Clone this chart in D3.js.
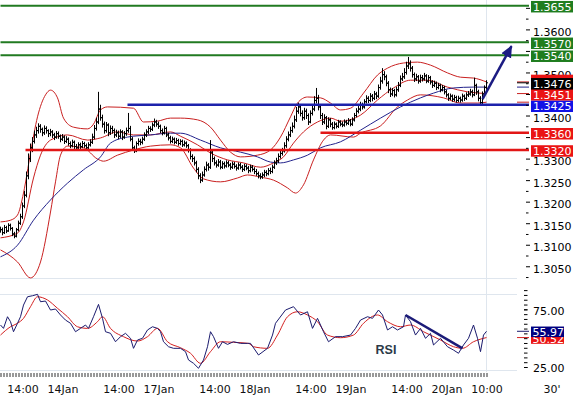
<!DOCTYPE html>
<html>
<head>
<meta charset="utf-8">
<script src="https://cdn.jsdelivr.net/npm/d3@7"></script>
<style>
body { margin: 0; background: #fff; }
svg { display: block; font-family: "DejaVu Sans", sans-serif; }
</style>
</head>
<body>
<svg id="chart" width="574" height="395"></svg>
<script>
// 30' bars, 13Jan 08:30 -> 20Jan 10:00 (bar index = position on the time axis)
var firstOpen = 1.3135;
var closes = [
 1.3135,1.3128,1.3140,1.3132,1.3145,1.3138,1.3125,1.3120,1.3135,1.3150,
 1.3165,1.3190,1.3215,1.3260,1.3300,1.3325,1.3340,1.3355,1.3365,1.3375,
 1.3368,1.3360,1.3370,1.3365,1.3358,1.3362,1.3355,1.3350,1.3358,1.3352,
 1.3345,1.3350,1.3340,1.3345,1.3335,1.3330,1.3338,1.3328,1.3325,1.3332,
 1.3328,1.3335,1.3330,1.3325,1.3332,1.3338,1.3350,1.3370,1.3385,1.3415,
 1.3395,1.3380,1.3365,1.3378,1.3360,1.3370,1.3365,1.3355,1.3360,1.3352,
 1.3362,1.3350,1.3358,1.3365,1.3370,1.3345,1.3325,1.3318,1.3335,1.3340,
 1.3338,1.3345,1.3355,1.3362,1.3370,1.3368,1.3378,1.3385,1.3380,1.3375,
 1.3365,1.3360,1.3370,1.3355,1.3348,1.3340,1.3345,1.3338,1.3342,1.3335,
 1.3340,1.3332,1.3336,1.3330,1.3320,1.3305,1.3300,1.3290,1.3275,1.3260,
 1.3250,1.3262,1.3275,1.3285,1.3280,1.3315,1.3300,1.3290,1.3285,1.3292,
 1.3280,1.3288,1.3283,1.3290,1.3285,1.3280,1.3287,1.3282,1.3278,1.3285,
 1.3280,1.3275,1.3282,1.3278,1.3272,1.3280,1.3275,1.3270,1.3265,1.3260,
 1.3258,1.3262,1.3268,1.3265,1.3272,1.3270,1.3280,1.3290,1.3295,1.3305,
 1.3312,1.3318,1.3330,1.3345,1.3355,1.3365,1.3375,1.3390,1.3410,1.3420,
 1.3405,1.3395,1.3410,1.3400,1.3385,1.3405,1.3415,1.3435,1.3440,1.3420,
 1.3400,1.3385,1.3395,1.3375,1.3390,1.3380,1.3372,1.3380,1.3375,1.3385,
 1.3380,1.3378,1.3385,1.3382,1.3388,1.3380,1.3390,1.3400,1.3410,1.3415,
 1.3425,1.3420,1.3432,1.3440,1.3435,1.3445,1.3440,1.3450,1.3445,1.3465,
 1.3480,1.3495,1.3490,1.3475,1.3460,1.3450,1.3458,1.3448,1.3460,1.3470,
 1.3485,1.3490,1.3500,1.3515,1.3520,1.3510,1.3495,1.3485,1.3490,1.3480,
 1.3488,1.3485,1.3492,1.3480,1.3488,1.3478,1.3470,1.3475,1.3465,1.3470,
 1.3460,1.3465,1.3455,1.3448,1.3440,1.3445,1.3438,1.3442,1.3435,1.3440,
 1.3436,1.3445,1.3440,1.3448,1.3450,1.3455,1.3448,1.3470,1.3455,1.3440,
 1.3430,1.3450,1.3465,1.3476
];
var highs = [
 1.3142,1.3140,1.3146,1.3144,1.3150,1.3149,1.3141,1.3130,1.3139,1.3156,
 1.3172,1.3198,1.3225,1.3270,1.3312,1.3335,1.3350,1.3365,1.3374,1.3382,
 1.3380,1.3372,1.3377,1.3375,1.3368,1.3369,1.3366,1.3360,1.3364,1.3363,
 1.3356,1.3357,1.3354,1.3352,1.3349,1.3340,1.3344,1.3342,1.3334,1.3338,
 1.3337,1.3341,1.3339,1.3335,1.3338,1.3345,1.3358,1.3378,1.3395,1.3455,
 1.3425,1.3402,1.3386,1.3385,1.3382,1.3377,1.3376,1.3370,1.3367,1.3365,
 1.3368,1.3366,1.3364,1.3372,1.3406,1.3376,1.3350,1.3330,1.3340,1.3347,
 1.3346,1.3351,1.3361,1.3368,1.3376,1.3375,1.3384,1.3393,1.3390,1.3386,
 1.3379,1.3370,1.3376,1.3374,1.3360,1.3353,1.3351,1.3349,1.3348,1.3346,
 1.3345,1.3344,1.3342,1.3340,1.3334,1.3324,1.3310,1.3305,1.3295,1.3280,
 1.3266,1.3270,1.3282,1.3293,1.3290,1.3343,1.3320,1.3305,1.3296,1.3299,
 1.3297,1.3294,1.3293,1.3296,1.3295,1.3290,1.3293,1.3292,1.3287,1.3291,
 1.3290,1.3285,1.3288,1.3287,1.3283,1.3286,1.3285,1.3280,1.3276,1.3270,
 1.3266,1.3268,1.3274,1.3273,1.3278,1.3279,1.3286,1.3296,1.3302,1.3312,
 1.3320,1.3325,1.3338,1.3352,1.3363,1.3374,1.3384,1.3400,1.3420,1.3430,
 1.3426,1.3412,1.3418,1.3416,1.3405,1.3412,1.3424,1.3445,1.3464,1.3448,
 1.3426,1.3406,1.3403,1.3399,1.3396,1.3394,1.3385,1.3386,1.3384,1.3390,
 1.3389,1.3386,1.3391,1.3390,1.3394,1.3392,1.3396,1.3406,1.3417,1.3422,
 1.3432,1.3430,1.3438,1.3447,1.3445,1.3452,1.3450,1.3457,1.3455,1.3472,
 1.3490,1.3510,1.3503,1.3495,1.3480,1.3465,1.3464,1.3462,1.3467,1.3478,
 1.3493,1.3499,1.3510,1.3525,1.3536,1.3528,1.3515,1.3500,1.3497,1.3494,
 1.3495,1.3494,1.3499,1.3496,1.3494,1.3492,1.3482,1.3481,1.3479,1.3476,
 1.3474,1.3471,1.3469,1.3460,1.3452,1.3451,1.3449,1.3448,1.3446,1.3446,
 1.3444,1.3451,1.3449,1.3454,1.3457,1.3462,1.3460,1.3488,1.3474,1.3460,
 1.3445,1.3456,1.3470,1.3482
];
var lows = [
 1.3128,1.3122,1.3125,1.3127,1.3130,1.3133,1.3120,1.3115,1.3117,1.3131,
 1.3146,1.3160,1.3185,1.3210,1.3252,1.3292,1.3315,1.3335,1.3348,1.3358,
 1.3360,1.3352,1.3355,1.3358,1.3350,1.3352,1.3348,1.3343,1.3346,1.3346,
 1.3338,1.3341,1.3334,1.3336,1.3330,1.3324,1.3326,1.3322,1.3319,1.3320,
 1.3322,1.3324,1.3325,1.3318,1.3321,1.3328,1.3334,1.3345,1.3365,1.3380,
 1.3388,1.3372,1.3358,1.3360,1.3352,1.3355,1.3358,1.3348,1.3350,1.3345,
 1.3348,1.3343,1.3346,1.3353,1.3360,1.3340,1.3320,1.3313,1.3315,1.3330,
 1.3331,1.3333,1.3341,1.3350,1.3357,1.3362,1.3364,1.3373,1.3374,1.3369,
 1.3359,1.3354,1.3356,1.3350,1.3342,1.3335,1.3336,1.3333,1.3334,1.3330,
 1.3331,1.3327,1.3328,1.3325,1.3314,1.3298,1.3292,1.3284,1.3268,1.3252,
 1.3243,1.3246,1.3258,1.3270,1.3272,1.3276,1.3292,1.3284,1.3279,1.3281,
 1.3275,1.3276,1.3277,1.3279,1.3280,1.3274,1.3276,1.3277,1.3272,1.3274,
 1.3275,1.3269,1.3271,1.3273,1.3266,1.3268,1.3270,1.3264,1.3260,1.3254,
 1.3252,1.3253,1.3257,1.3259,1.3261,1.3264,1.3266,1.3276,1.3285,1.3290,
 1.3300,1.3307,1.3314,1.3325,1.3340,1.3350,1.3360,1.3370,1.3385,1.3404,
 1.3398,1.3388,1.3390,1.3392,1.3378,1.3382,1.3400,1.3410,1.3428,1.3412,
 1.3392,1.3378,1.3380,1.3368,1.3371,1.3373,1.3367,1.3368,1.3370,1.3371,
 1.3375,1.3373,1.3374,1.3377,1.3378,1.3375,1.3376,1.3386,1.3396,1.3405,
 1.3410,1.3414,1.3416,1.3428,1.3429,1.3431,1.3433,1.3436,1.3438,1.3441,
 1.3460,1.3474,1.3482,1.3468,1.3452,1.3443,1.3445,1.3442,1.3444,1.3455,
 1.3466,1.3480,1.3485,1.3495,1.3508,1.3502,1.3488,1.3478,1.3480,1.3474,
 1.3476,1.3479,1.3481,1.3475,1.3476,1.3472,1.3464,1.3466,1.3459,1.3461,
 1.3454,1.3456,1.3449,1.3442,1.3434,1.3436,1.3432,1.3433,1.3430,1.3431,
 1.3430,1.3432,1.3434,1.3436,1.3443,1.3446,1.3442,1.3445,1.3448,1.3433,
 1.3423,1.3426,1.3446,1.3460
];

// Bollinger bands and moving average, [bar index, price]
var upperBand = [[0,1.3153],[5,1.3157],[8.5,1.3169],[11.5,1.3220],[15,1.3313],[18.5,1.3397],[22.5,1.3448],[25,1.3459],[28.5,1.3441],[31.5,1.3394],[36.5,1.3373],[43.5,1.3369],[46.5,1.3380],[50,1.3413],[53.5,1.3420],[66.5,1.3417],[71.5,1.3385],[78.5,1.3387],[85,1.3394],[90,1.3394],[98.5,1.3390],[105,1.3373],[110,1.3343],[115,1.3315],[120,1.3304],[128.5,1.3308],[135,1.3320],[140,1.3350],[145,1.3397],[148.5,1.3429],[153.5,1.3443],[160,1.3441],[165,1.3429],[170,1.3413],[175,1.3417],[181.5,1.3452],[188.5,1.3494],[193.5,1.3510],[201.5,1.3522],[208.5,1.3524],[215,1.3517],[223.5,1.3499],[230,1.3489],[236.5,1.3487],[243,1.3478]];
var midBand = [[0,1.3116],[8.5,1.3127],[11.5,1.3153],[16.5,1.3255],[20,1.3308],[25,1.3343],[33.5,1.3355],[43.5,1.3343],[50,1.3348],[58.5,1.3362],[66.5,1.3355],[75,1.3355],[85,1.3362],[90,1.3352],[98.5,1.3332],[105,1.3313],[113.5,1.3297],[121.5,1.3290],[130,1.3280],[136.5,1.3290],[141.5,1.3304],[146.5,1.3336],[151.5,1.3362],[158.5,1.3385],[165,1.3394],[170,1.3387],[180,1.3401],[188.5,1.3436],[196.5,1.3464],[205,1.3482],[213.5,1.3482],[223.5,1.3466],[233.5,1.3455],[243,1.3451]];
var lowerBand = [[0,1.3088],[8.5,1.3060],[15,1.3023],[20,1.3060],[25,1.3176],[27.5,1.3246],[30,1.3308],[33.5,1.3329],[41.5,1.3325],[48.5,1.3299],[51.5,1.3294],[58.5,1.3308],[66.5,1.3320],[75,1.3329],[85,1.3332],[90,1.3325],[96.5,1.3278],[101.5,1.3253],[110,1.3246],[118.5,1.3255],[123.5,1.3262],[130,1.3257],[136.5,1.3250],[143.5,1.3232],[147.5,1.3220],[151.5,1.3239],[156.5,1.3297],[161.5,1.3343],[165,1.3355],[176.5,1.3350],[180,1.3359],[190,1.3376],[198.5,1.3420],[203.5,1.3436],[210,1.3448],[221.5,1.3441],[230,1.3429],[238.5,1.3429],[243,1.3431]];
var movingAvg = [[0,1.3072],[8.5,1.3099],[16.5,1.3157],[25,1.3204],[33.5,1.3243],[41.5,1.3274],[50,1.3304],[55,1.3336],[63.5,1.3350],[75,1.3355],[85,1.3359],[90,1.3359],[100,1.3343],[110,1.3325],[120,1.3315],[128.5,1.3304],[135,1.3292],[140,1.3290],[146.5,1.3297],[153.5,1.3308],[160,1.3325],[170,1.3339],[180,1.3366],[190,1.3394],[200,1.3420],[210,1.3441],[216.5,1.3452],[226.5,1.3464],[236.5,1.3466],[243,1.3466]];

// support / resistance levels
var levelValues = [1.3655, 1.3570, 1.3540, 1.3425, 1.3360, 1.3320];
var levelStart  = [0, 0, 0, 63.5, 160, 12.5];
var levelKind   = ["res", "res", "res", "pivot", "sup", "sup"];
var trendFrom = [241, 1.3438];
var trendTo   = [255.5, 1.3561];

// RSI panel
var rsiLine = [[0,61.4],[1.5,58.5],[3.5,68.6],[5,64.3],[6.5,55.6],[8.5,62.9],[10,68.6],[11.5,78.7],[13.5,85.9],[16,86.8],[18.5,88.0],[20,81.6],[22.5,82.2],[25,74.4],[27.5,75.3],[30,70.1],[32.5,65.7],[35,62.9],[37.5,55.6],[40,58.5],[42.5,61.4],[44,58.5],[46.5,68.6],[49,79.3],[51,67.2],[52.5,55.6],[55,54.2],[57.5,46.9],[60,51.3],[62.5,54.2],[65,49.9],[66.5,41.2],[68.5,48.4],[71,49.9],[73.5,57.1],[76,59.9],[78.5,58.5],[80,55.6],[81.5,46.9],[84,42.6],[86.5,41.2],[90,41.2],[92.5,38.3],[94,31.1],[96.5,28.2],[99,23.9],[101.5,31.1],[103.5,42.6],[105,55.6],[106.5,51.3],[109,41.2],[111,46.9],[113.5,44.6],[116.5,46.9],[120,45.5],[123.5,45.5],[125,45.5],[129,35.4],[133.5,41.2],[136,52.7],[137.5,62.9],[142.5,74.4],[146.5,77.3],[150,70.1],[153.5,72.9],[156,58.5],[158.5,67.2],[161.5,55.6],[164,46.9],[167.5,51.3],[171,51.3],[175,52.7],[177.5,58.5],[180,65.7],[183.5,68.6],[186,67.2],[189,74.4],[191,70.1],[193.5,57.1],[196,59.9],[198.5,57.1],[201.5,59.9],[202.5,70.1],[205,64.3],[207.5,52.7],[210,58.5],[212.5,49.9],[215,54.2],[216.5,44.1],[220,49.9],[223.5,42.6],[226.5,39.7],[229,36.9],[231.5,44.1],[234,49.9],[236.5,61.4],[238.5,49.9],[240,38.3],[241.5,52.7],[243,55.97]];
var rsiSignal = [[0,52.7],[5,59.9],[8.5,62.9],[11.5,67.2],[15,77.3],[18.5,85.9],[23.5,83.1],[28.5,75.9],[33.5,68.6],[38.5,59.9],[43.5,58.5],[48.5,64.3],[51,68.6],[55,58.5],[61.5,51.3],[68.5,47.5],[73.5,51.3],[78.5,58.5],[83.5,46.9],[90,41.7],[95,36.9],[100,28.2],[105,38.3],[110,46.9],[116.5,46.4],[124,45.5],[126.5,42.6],[133.5,41.2],[138.5,52.7],[143.5,68.6],[148.5,72.9],[153.5,70.1],[158.5,64.3],[163.5,52.7],[170,50.4],[176.5,52.7],[181.5,62.9],[188.5,70.1],[193.5,64.3],[200,59.9],[205,61.4],[211.5,55.6],[220,48.4],[226.5,42.6],[231,41.2],[236.5,46.9],[243,50.52]];
var rsiTrendFrom = [202.5, 70.1];
var rsiTrendTo   = [231, 41.2];

// time axis
var labelIdx  = [11, 31, 59, 79, 107, 127, 155, 175, 203, 223, 243];
var labelText = ["14:00", "14Jan", "14:00", "17Jan", "14:00", "18Jan", "14:00", "19Jan", "14:00", "20Jan", "10:00"];
// price labels that sit under the level boxes
var hiddenLabels = [1.3650, 1.3550, 1.3450, 1.3350];

var svg = d3.select("#chart");
var last = closes.length - 1;

var x = d3.scaleLinear().domain([0, 243]).range([0.5, 486.5]);
var y = d3.scaleLinear().domain([1.302278, 1.366824]).range([278, 0]);
var yR = d3.scaleLinear().domain([22.4, 88.3]).range([370, 294]);

var colors = { res: "#217a21", pivot: "#1d22ab", sup: "#e21616" };
var boxColors = { res: "#1f7d1f", pivot: "#1212e6", sup: "#ea1414" };
var grid = "#dfe6ee";

// light frame lines
[278, 294, 370].forEach(function (gy) {
    svg.append("line").attr("x1", 0).attr("x2", 517).attr("y1", gy + 0.5).attr("y2", gy + 0.5)
        .attr("stroke", grid);
});
svg.append("line").attr("x1", x(243)).attr("x2", x(243)).attr("y1", 0).attr("y2", 372)
    .attr("stroke", grid);

// bands + average
var bandLine = d3.line()
    .x(function (d) { return x(d[0]); })
    .y(function (d) { return y(d[1]); })
    .curve(d3.curveMonotoneX);

[upperBand, midBand, lowerBand].forEach(function (b) {
    svg.append("path").datum(b).attr("d", bandLine)
        .attr("fill", "none").attr("stroke", "#c92020").attr("stroke-width", 1);
});
svg.append("path").datum(movingAvg).attr("d", bandLine)
    .attr("fill", "none").attr("stroke", "#23238c").attr("stroke-width", 1);

// OHLC bars
var bars = svg.append("g").attr("stroke", "#000").attr("stroke-width", 1);
closes.forEach(function (c, i) {
    var o = i === 0 ? firstOpen : closes[i - 1];
    var bx = x(i);
    bars.append("line").attr("x1", bx).attr("x2", bx).attr("y1", y(highs[i])).attr("y2", y(lows[i]));
    bars.append("line").attr("x1", bx - 1.5).attr("x2", bx).attr("y1", y(o)).attr("y2", y(o));
    bars.append("line").attr("x1", bx).attr("x2", bx + 1.5).attr("y1", y(c)).attr("y2", y(c));
});

// levels
levelValues.forEach(function (v, k) {
    svg.append("line")
        .attr("x1", x(levelStart[k])).attr("x2", 529)
        .attr("y1", y(v)).attr("y2", y(v))
        .attr("stroke", colors[levelKind[k]])
        .attr("stroke-width", levelKind[k] === "res" ? 2 : 2.5);
});

// trend arrow
svg.append("defs").append("marker")
    .attr("id", "head").attr("viewBox", "0 -6 12 12")
    .attr("refX", 11).attr("refY", 0)
    .attr("markerWidth", 12).attr("markerHeight", 12)
    .attr("markerUnits", "userSpaceOnUse").attr("orient", "auto")
    .append("path").attr("d", "M0,-5.5L12,0L0,5.5Z").attr("fill", "#1b1b82");
svg.append("line")
    .attr("x1", x(trendFrom[0])).attr("y1", y(trendFrom[1]))
    .attr("x2", x(trendTo[0])).attr("y2", y(trendTo[1]))
    .attr("stroke", "#1b1b82").attr("stroke-width", 2.5)
    .attr("marker-end", "url(#head)");

// short last-value marks at the right edge
var marks = [
    [upperBand[upperBand.length - 1][1], "#c92020"],
    [closes[last], "#000"],
    [movingAvg[movingAvg.length - 1][1], "#23238c"],
    [midBand[midBand.length - 1][1], "#c92020"],
    [lowerBand[lowerBand.length - 1][1], "#c92020"]
];
marks.forEach(function (m) {
    svg.append("line").attr("x1", 517).attr("x2", 529)
        .attr("y1", y(m[0])).attr("y2", y(m[0])).attr("stroke", m[1]);
});

// price axis
var majors = d3.range(1.305, 1.36501, 0.005);
var minors = d3.range(1.3025, 1.3651, 0.005);
var fmt4 = d3.format(".4f");
var pAxis = svg.append("g").attr("transform", "translate(526,0)")
    .call(d3.axisRight(y).tickValues(majors).tickSize(4).tickPadding(3)
        .tickFormat(function (d) {
            var hidden = hiddenLabels.some(function (h) { return Math.abs(h - d) < 1e-6; });
            return hidden ? "" : fmt4(d);
        }));
var pMinor = svg.append("g").attr("transform", "translate(526,0)")
    .call(d3.axisRight(y).tickValues(minors).tickSize(2.5).tickFormat(""));
[pAxis, pMinor].forEach(function (g) {
    g.select(".domain").remove();
    g.selectAll("line").attr("stroke", "#000");
    g.selectAll("text").attr("fill", "#000").attr("font-size", 11)
        .attr("font-family", "DejaVu Sans").attr("dy", "0.55em");
});

// value boxes on the price axis
function valueBox(v, fill, dy, withText) {
    var cy = y(v) + dy;
    svg.append("rect").attr("x", 531).attr("y", cy - 5.75).attr("width", 42).attr("height", 11.5)
        .attr("fill", fill);
    if (withText === false) return;
    svg.append("text").attr("x", 533).attr("y", cy + 4.2)
        .attr("fill", "#fff").attr("font-size", 11).text(fmt4(v));
}
levelValues.forEach(function (v, k) {
    valueBox(v, boxColors[levelKind[k]], k === 3 ? 1.5 : 1);
});
valueBox(midBand[midBand.length - 1][1], "#ea1414", 1.2);
valueBox(upperBand[upperBand.length - 1][1], "#ea1414", -1.5, false);
valueBox(closes[last], "#000", 1);

// RSI
var rLine = d3.line()
    .x(function (d) { return x(d[0]); })
    .y(function (d) { return yR(d[1]); });
svg.append("path").datum(rsiSignal).attr("d", rLine.curve(d3.curveMonotoneX))
    .attr("fill", "none").attr("stroke", "#d42020").attr("stroke-width", 1);
svg.append("path").datum(rsiLine).attr("d", rLine.curve(d3.curveLinear))
    .attr("fill", "none").attr("stroke", "#1b1b6e").attr("stroke-width", 1);
svg.append("line")
    .attr("x1", x(rsiTrendFrom[0])).attr("y1", yR(rsiTrendFrom[1]))
    .attr("x2", x(rsiTrendTo[0])).attr("y2", yR(rsiTrendTo[1]))
    .attr("stroke", "#1b1b78").attr("stroke-width", 2.5);

svg.append("text").attr("x", 386).attr("y", 354).attr("text-anchor", "middle")
    .attr("font-family", "Liberation Sans, Arial, sans-serif").attr("font-weight", "bold")
    .attr("font-size", 12.5).attr("fill", "#2c3a48").text("RSI");

var rsiLast = rsiLine[rsiLine.length - 1][1];
var sigLast = rsiSignal[rsiSignal.length - 1][1];
svg.append("line").attr("x1", 517).attr("x2", 529).attr("y1", yR(sigLast)).attr("y2", yR(sigLast)).attr("stroke", "#d42020");
svg.append("line").attr("x1", 517).attr("x2", 529).attr("y1", yR(rsiLast)).attr("y2", yR(rsiLast)).attr("stroke", "#1b1b6e");

var rMajor = svg.append("g").attr("transform", "translate(524,0)")
    .call(d3.axisRight(yR).tickValues([25, 75]).tickSize(3.5).tickPadding(5.5).tickFormat(d3.format(".2f")));
var rMinor = svg.append("g").attr("transform", "translate(524,0)")
    .call(d3.axisRight(yR).tickValues(d3.range(25, 92, 50 / 12)).tickSize(3.5).tickFormat(""));
[rMajor, rMinor].forEach(function (g) {
    g.select(".domain").remove();
    g.selectAll("line").attr("stroke", "#000");
    g.selectAll("text").attr("fill", "#000").attr("font-size", 11)
        .attr("font-family", "DejaVu Sans").attr("dy", "0.45em");
});

function rsiBox(v, fill, dy) {
    var cy = yR(v) + dy;
    svg.append("rect").attr("x", 531).attr("y", cy - 5.25).attr("width", 33).attr("height", 10.5).attr("fill", fill);
    svg.append("text").attr("x", 532.5).attr("y", cy + 4.2).attr("fill", "#fff").attr("font-size", 11)
        .text(d3.format(".2f")(v));
}
rsiBox(sigLast, "#ea1414", 1);
rsiBox(rsiLast, "#000080", 0.5);

// time axis
var tAxis = svg.append("g").attr("transform", "translate(0,373)")
    .call(d3.axisBottom(x).tickValues(d3.range(0, 243.1, 1.5)).tickSize(4).tickFormat(""));
tAxis.select(".domain").remove();
tAxis.selectAll("line").attr("stroke", "#333");

var tLabels = svg.append("g").attr("transform", "translate(0,376)")
    .call(d3.axisBottom(x).tickValues(labelIdx).tickSize(0).tickPadding(9)
        .tickFormat(function (d, i) { return labelText[i]; }));
tLabels.select(".domain").remove();
tLabels.selectAll("text").attr("fill", "#111").attr("font-size", 11).attr("font-family", "DejaVu Sans");

svg.append("text").attr("x", 552).attr("y", 393).attr("text-anchor", "middle")
    .attr("font-size", 11).attr("fill", "#111").text("30'");
</script>
</body>
</html>
